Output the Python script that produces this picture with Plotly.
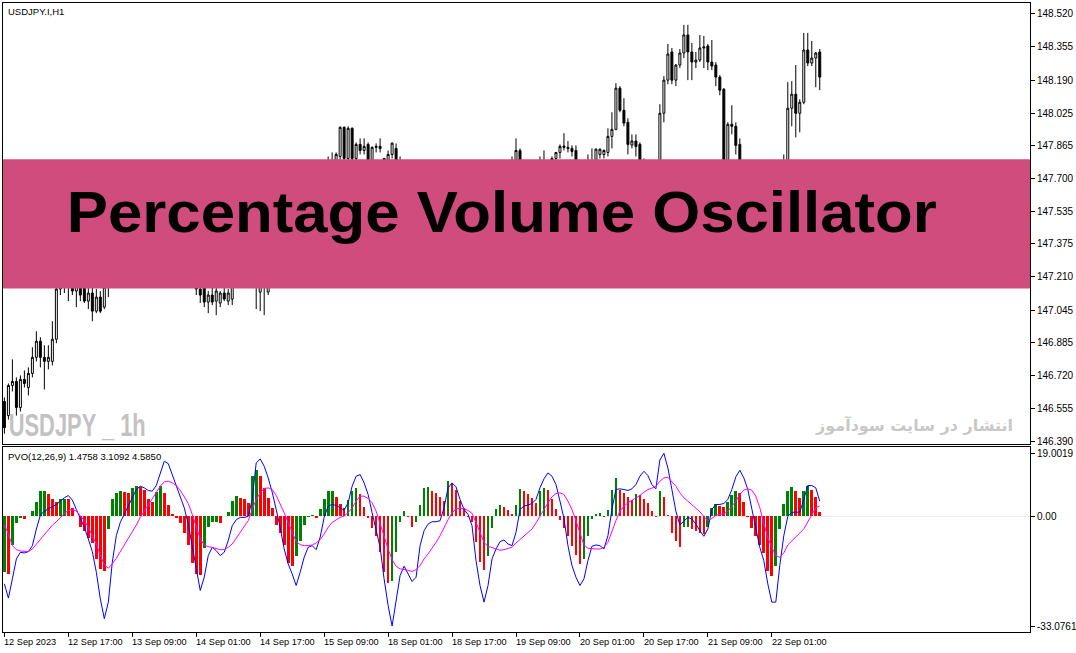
import plotly.graph_objects as go

# ---------------- data ----------------
open_ = [146.59,146.52,146.67,146.69,146.56,146.70,146.66,146.73,146.81,146.89,
146.81,146.79,146.79,146.90,147.15,147.22,147.16,147.20,147.14,147.18,
147.18,147.09,147.13,147.04,147.11,147.06,147.16,147.25,147.30,147.38,
147.44,147.40,147.48,147.56,147.52,147.47,147.53,147.58,147.55,147.50,
147.42,147.46,147.44,147.38,147.42,147.36,147.33,147.28,147.30,147.15,
147.20,147.085,147.12,147.09,147.08,147.13,147.09,147.10,147.20,147.35,
147.42,147.30,147.22,147.20,147.135,147.21,147.135,147.26,147.33,147.40,
147.45,147.42,147.48,147.52,147.50,147.56,147.60,147.58,147.62,147.66,
147.64,147.70,147.76,147.78,147.81,147.955,147.80,147.95,147.80,147.87,
147.84,147.87,147.78,147.855,147.86,147.80,147.79,147.82,147.85,147.75,
147.70,147.62,147.65,147.58,147.52,147.47,147.50,147.43,147.40,147.44,
147.41,147.36,147.42,147.49,147.47,147.52,147.55,147.53,147.57,147.60,
147.58,147.61,147.64,147.62,147.66,147.69,147.67,147.73,147.75,147.84,
147.72,147.66,147.70,147.68,147.73,147.76,147.74,147.77,147.80,147.83,
147.862,147.855,147.85,147.84,147.75,147.70,147.73,147.77,147.75,147.82,
147.82,147.83,147.91,147.945,148.15,148.04,147.98,147.867,147.887,147.87,
147.75,147.68,147.71,147.66,147.75,148.025,148.19,148.33,148.19,148.265,
148.325,148.415,148.33,148.28,148.29,148.35,148.36,148.28,148.265,148.205,
148.145,147.72,147.97,147.96,147.87,147.75,147.65,147.58,147.52,147.46,
147.50,147.45,147.48,147.53,147.60,147.66,147.75,148.05,148.12,148.025,
148.08,148.34,148.275,148.30,148.33]

high = [146.61,146.68,146.80,146.71,146.72,146.745,146.76,146.86,146.94,146.91,
146.87,146.87,146.99,147.25,147.28,147.30,147.24,147.26,147.22,147.25,
147.20,147.18,147.16,147.15,147.14,147.22,147.30,147.34,147.42,147.47,
147.52,147.50,147.60,147.64,147.58,147.55,147.62,147.66,147.62,147.56,
147.50,147.52,147.48,147.45,147.46,147.42,147.38,147.34,147.35,147.20,
147.22,147.14,147.16,147.17,147.14,147.16,147.15,147.25,147.40,147.48,
147.45,147.35,147.28,147.26,147.24,147.28,147.30,147.36,147.42,147.48,
147.52,147.50,147.56,147.60,147.58,147.64,147.66,147.65,147.70,147.72,
147.74,147.81,147.83,147.83,147.96,147.96,147.96,147.955,147.88,147.90,
147.90,147.88,147.86,147.875,147.90,147.80,147.84,147.88,147.875,147.81,
147.74,147.68,147.70,147.64,147.58,147.55,147.56,147.49,147.46,147.50,
147.46,147.45,147.52,147.56,147.54,147.58,147.60,147.59,147.63,147.64,
147.62,147.66,147.69,147.68,147.72,147.74,147.76,147.81,147.90,147.85,
147.76,147.72,147.75,147.76,147.81,147.84,147.79,147.81,147.83,147.87,
147.926,147.887,147.865,147.865,147.78,147.76,147.82,147.85,147.85,147.85,
147.845,147.95,148.03,148.175,148.16,148.10,148.00,147.92,147.92,147.88,
147.80,147.74,147.76,147.78,148.07,148.21,148.37,148.35,148.27,148.345,
148.465,148.465,148.375,148.33,148.415,148.41,148.37,148.39,148.28,148.215,
148.15,147.98,148.065,147.98,147.90,147.78,147.70,147.64,147.58,147.54,
147.56,147.52,147.56,147.62,147.70,147.82,148.18,148.185,148.265,148.095,
148.425,148.425,148.385,148.33,148.345]

low = [146.43,146.50,146.64,146.52,146.54,146.66,146.62,146.71,146.79,146.76,
146.65,146.75,146.77,146.88,147.12,147.13,147.09,147.12,147.06,147.09,
147.08,147.05,146.99,147.03,147.03,147.05,147.11,147.20,147.27,147.33,
147.38,147.36,147.45,147.50,147.44,147.42,147.50,147.52,147.46,147.38,
147.36,147.40,147.35,147.33,147.34,147.30,147.25,147.22,147.12,147.08,
147.06,147.03,147.07,147.02,147.06,147.09,147.07,147.07,147.18,147.30,
147.25,147.18,147.16,147.05,147.04,147.02,147.12,147.22,147.30,147.36,
147.40,147.38,147.44,147.47,147.46,147.52,147.54,147.53,147.58,147.60,
147.60,147.65,147.72,147.75,147.79,147.78,147.78,147.76,147.78,147.82,
147.82,147.70,147.74,147.83,147.83,147.72,147.77,147.80,147.74,147.66,
147.58,147.55,147.56,147.50,147.44,147.42,147.40,147.36,147.34,147.38,
147.33,147.30,147.38,147.44,147.42,147.48,147.50,147.48,147.52,147.55,
147.53,147.57,147.60,147.58,147.62,147.64,147.63,147.68,147.72,147.68,
147.62,147.60,147.64,147.64,147.70,147.72,147.70,147.74,147.77,147.80,
147.84,147.83,147.81,147.72,147.66,147.65,147.70,147.72,147.73,147.80,
147.80,147.81,147.85,147.94,148.03,147.96,147.82,147.85,147.81,147.70,
147.64,147.60,147.64,147.62,147.72,147.98,148.17,148.17,148.16,148.25,
148.30,148.19,148.19,148.25,148.28,148.25,148.24,148.24,148.16,148.115,
147.68,147.70,147.92,147.82,147.70,147.62,147.55,147.48,147.42,147.40,
147.42,147.38,147.44,147.50,147.56,147.62,147.72,147.96,147.905,147.93,
148.07,148.26,148.26,148.155,148.14]

close = [146.46,146.67,146.69,146.56,146.70,146.68,146.73,146.81,146.89,146.81,
146.79,146.81,146.90,147.15,147.22,147.16,147.20,147.14,147.18,147.12,
147.09,147.13,147.04,147.11,147.04,147.16,147.25,147.30,147.38,147.44,
147.40,147.48,147.56,147.52,147.47,147.53,147.58,147.55,147.50,147.42,
147.46,147.44,147.38,147.42,147.36,147.33,147.28,147.30,147.15,147.12,
147.085,147.12,147.085,147.14,147.13,147.10,147.13,147.20,147.35,147.42,
147.30,147.22,147.20,147.18,147.21,147.20,147.26,147.33,147.40,147.45,
147.42,147.48,147.52,147.50,147.56,147.60,147.58,147.62,147.66,147.64,
147.70,147.76,147.79,147.82,147.955,147.80,147.95,147.80,147.87,147.84,
147.86,147.78,147.855,147.86,147.85,147.79,147.82,147.876,147.75,147.70,
147.62,147.65,147.58,147.52,147.47,147.50,147.43,147.40,147.44,147.41,
147.36,147.42,147.49,147.47,147.52,147.55,147.53,147.57,147.60,147.58,
147.61,147.64,147.62,147.66,147.69,147.67,147.73,147.75,147.84,147.72,
147.66,147.70,147.68,147.73,147.76,147.74,147.77,147.80,147.83,147.86,
147.855,147.85,147.835,147.75,147.70,147.73,147.77,147.75,147.846,147.846,
147.84,147.91,147.945,148.15,148.04,147.976,147.87,147.887,147.86,147.75,
147.68,147.71,147.66,147.75,148.025,148.19,148.32,148.19,148.265,148.325,
148.415,148.33,148.28,148.29,148.35,148.355,148.28,148.26,148.205,148.14,
147.72,147.97,147.96,147.865,147.75,147.65,147.58,147.52,147.46,147.50,
147.45,147.48,147.53,147.60,147.66,147.75,148.05,148.12,148.025,148.08,
148.34,148.275,148.30,148.325,148.205]

pvo = [-20.3,-24.6,-18.8,-12.8,-10.8,-11.0,-10.6,-8.8,-3.8,0.4,
1.6,2.3,2.8,3.6,4.6,5.6,6.3,4.9,2.1,-0.6,
-3.3,-6.8,-10.6,-16.8,-24.8,-30.8,-25.8,-13.8,-5.8,-1.8,
0.6,3.1,5.6,8.1,9.1,8.6,7.8,7.6,9.3,13.1,
16.6,15.9,12.6,9.1,6.1,2.6,-2.3,-8.8,-15.8,-22.3,
-18.3,-11.8,-9.3,-10.3,-11.8,-10.8,-7.3,-2.8,-1.0,-0.3,
-0.3,0.0,5.1,16.1,17.3,15.1,11.6,7.3,2.1,-3.3,
-9.8,-14.3,-17.3,-20.8,-16.8,-12.3,-9.3,-8.8,-10.0,-6.3,
-0.3,3.1,3.6,3.3,2.6,1.9,4.1,9.1,12.1,12.6,
10.1,6.6,1.1,-4.3,-9.3,-18.8,-26.8,-33.0,-25.8,-17.8,
-15.0,-17.3,-19.6,-18.3,-8.8,-4.3,-2.3,-1.6,-1.6,-1.3,
2.6,8.6,10.1,8.9,5.1,2.1,0.6,-2.8,-13.3,-20.8,
-25.8,-20.8,-12.8,-9.8,-7.6,-7.1,-8.3,-8.8,-4.8,2.1,
3.1,3.4,3.9,5.1,8.6,11.3,13.1,12.1,9.6,4.6,
-0.6,-8.8,-14.8,-18.3,-20.8,-18.8,-13.3,-9.0,-8.6,-8.8,
-9.8,-5.8,2.1,8.1,8.3,8.1,7.8,8.3,9.6,12.1,
13.6,12.3,9.6,8.3,17.0,19.0,14.6,8.1,1.6,-2.6,
-1.3,-0.3,-0.8,-2.3,-4.3,-6.0,-3.8,2.1,3.6,3.6,
3.9,5.1,8.1,11.9,13.9,11.6,8.1,2.6,-3.8,-9.3,
-13.3,-20.3,-25.8,-25.8,-14.8,-5.8,0.0,1.2,1.3,1.3,
5.1,9.3,9.3,8.6,4.585]

signal = [-2.5,-5.3,-8.8,-10.0,-10.4,-10.6,-10.6,-9.8,-8.3,-7.0,
-5.3,-3.8,-2.6,-1.6,-0.3,0.9,1.8,2.1,1.6,0.3,
-1.3,-3.3,-5.6,-8.3,-11.8,-14.6,-15.6,-14.3,-12.6,-10.6,
-8.8,-6.8,-4.6,-2.6,-0.3,1.6,3.3,5.1,7.1,9.1,
10.4,10.6,10.1,9.3,7.9,6.1,3.9,0.6,-3.3,-6.8,
-8.6,-9.1,-9.3,-9.6,-10.0,-10.0,-9.3,-8.3,-6.6,-5.0,
-3.3,-1.3,2.1,5.1,7.1,8.4,8.6,8.1,6.3,3.9,
1.1,-1.8,-5.0,-7.6,-8.5,-8.8,-8.8,-8.6,-8.0,-7.0,
-5.3,-3.3,-1.8,-1.0,-0.3,0.1,1.1,2.6,4.6,6.1,
6.1,5.4,4.1,1.6,-2.3,-6.3,-9.8,-13.0,-15.0,-15.8,
-15.9,-16.2,-16.6,-16.0,-14.8,-12.8,-11.3,-9.6,-7.8,-5.8,
-3.3,-1.0,1.1,2.3,2.5,2.3,1.8,0.9,-1.8,-5.0,
-7.8,-9.0,-9.4,-9.8,-10.2,-10.0,-9.6,-9.3,-8.0,-7.0,
-5.8,-4.8,-3.8,-2.0,0.1,2.1,4.1,5.9,6.9,7.1,
6.6,4.6,2.1,-1.3,-5.3,-8.6,-9.6,-9.8,-9.8,-9.8,
-9.3,-7.8,-4.3,-1.3,1.6,3.1,4.1,4.8,5.6,6.3,
7.3,8.1,8.5,9.1,10.6,11.6,11.8,10.6,9.1,7.1,
5.6,4.6,3.6,2.6,1.4,0.0,-1.3,-0.6,0.3,0.6,
0.8,1.5,3.1,4.6,6.6,7.9,8.3,7.9,6.1,2.6,
-2.0,-6.3,-9.3,-11.8,-12.3,-11.0,-8.6,-7.3,-6.0,-5.0,
-3.8,-1.8,0.6,2.6,3.1092]

hist = [-16.6,-17.2,-8.6,-1.9,-0.4,-0.7,0.1,1.6,4.3,7.6,
7.7,6.6,5.1,4.3,5.1,5.2,5.1,2.6,0.1,-3.2,
-4.4,-6.4,-7.9,-12.9,-15.7,-16.4,-3.9,5.1,7.1,7.6,
7.4,7.2,8.6,9.3,8.9,7.9,5.3,4.3,7.3,9.1,
7.1,3.3,0.6,-0.4,-2.1,-4.9,-8.7,-13.9,-17.4,-17.5,
-9.4,-3.2,-1.7,-1.6,-1.9,0.2,1.3,4.6,6.1,5.6,
5.1,3.9,12.1,14.1,12.1,8.6,5.6,2.6,-2.6,-5.1,
-8.7,-13.9,-14.9,-11.9,-7.4,-2.6,-0.2,0.4,-0.4,2.3,
5.3,7.6,7.7,5.8,3.6,2.6,4.9,7.6,8.6,6.6,
2.8,-0.5,-3.6,-6.0,-10.6,-16.8,-19.9,-19.3,-10.8,-1.8,
1.6,-0.3,-3.1,-1.8,3.3,8.6,8.9,7.6,7.1,5.9,
4.6,10.6,10.1,8.1,4.6,2.6,-0.3,-1.8,-7.8,-13.8,
-16.1,-11.8,-3.6,2.1,3.3,2.8,1.8,0.6,3.3,8.3,
7.6,6.6,5.6,4.1,7.6,8.6,8.1,5.1,2.1,-1.0,
-3.6,-6.0,-8.8,-11.6,-14.3,-12.8,-5.8,-0.8,0.6,1.1,
-0.1,1.8,8.1,11.5,7.9,7.1,5.8,5.0,6.6,6.3,
5.1,4.1,1.6,-0.3,7.6,5.9,0.3,-5.0,-7.3,-9.3,
-3.3,-3.1,-3.8,-4.3,-5.0,-5.3,-3.3,2.6,3.6,3.0,
2.7,4.2,6.4,7.7,7.2,4.4,-0.2,-3.4,-5.9,-8.6,
-10.9,-16.4,-18.0,-14.9,-3.9,3.6,7.6,8.9,7.6,5.6,
7.6,9.3,8.1,5.9,1.4758]

time_labels = ["12 Sep 2023", "12 Sep 17:00", "13 Sep 09:00", "14 Sep 01:00",
               "14 Sep 17:00", "15 Sep 09:00", "18 Sep 01:00", "18 Sep 17:00",
               "19 Sep 09:00", "20 Sep 01:00", "20 Sep 17:00", "21 Sep 09:00",
               "22 Sep 01:00"]
time_label_bars = [0, 16, 32, 48, 64, 80, 96, 112, 128, 144, 160, 176, 192]

price_ticks = [148.520, 148.355, 148.190, 148.025, 147.865, 147.700, 147.535,
               147.375, 147.210, 147.045, 146.885, 146.720, 146.555, 146.390]
pvo_ticks = [19.0019, 0.0, -33.0761]
pvo_tick_text = ["19.0019", "0.00", "-33.0761"]

symbol_label = "USDJPY.I,H1"
indicator_label = "PVO(12,26,9) 1.4758 3.1092 4.5850"
banner_title = "Percentage Volume Oscillator"
watermark_left = "USDJPY _ 1h"
watermark_right = "انتشار در سایت سودآموز"

# ---------------- figure ----------------
W, H = 1076, 653
ML, MR, MT, MB = 3, 46, 3, 21
ph = H - MT - MB
def py(pix):
    return (H - MB - pix) / ph
def px(pix):
    return (pix - ML) / (W - ML - MR)

bars = list(range(len(close)))
XR = [-0.35, 256.6]
FONT = "Liberation Sans, Arial, sans-serif"

fig = go.Figure()

fig.add_trace(go.Candlestick(
    x=bars, open=open_, high=high, low=low, close=close,
    increasing=dict(line=dict(color="black", width=1), fillcolor="white"),
    decreasing=dict(line=dict(color="black", width=1), fillcolor="black"),
    whiskerwidth=0, xaxis="x", yaxis="y", showlegend=False, hoverinfo="skip"))

hist_colors = []
for k, v in enumerate(hist):
    if k == 0 or v > hist[k - 1]:
        hist_colors.append("#008000")
    else:
        hist_colors.append("#FF0000")

fig.add_trace(go.Bar(x=bars, y=hist, marker=dict(color=hist_colors, line=dict(width=0)),
                     width=0.68, xaxis="x2", yaxis="y2", showlegend=False, hoverinfo="skip"))
fig.add_trace(go.Scatter(x=bars, y=pvo, mode="lines", line=dict(color="#0000FF", width=1),
                         xaxis="x2", yaxis="y2", showlegend=False, hoverinfo="skip"))
fig.add_trace(go.Scatter(x=bars, y=signal, mode="lines", line=dict(color="#FF00FF", width=1),
                         xaxis="x2", yaxis="y2", showlegend=False, hoverinfo="skip"))

axis_common = dict(showgrid=False, zeroline=False, showline=True, mirror=True,
                   linecolor="black", linewidth=1, fixedrange=True, automargin=False)

fig.update_layout(
    width=W, height=H,
    margin=dict(l=ML, r=MR, t=MT, b=MB, pad=0, autoexpand=False),
    paper_bgcolor="white", plot_bgcolor="white",
    showlegend=False, bargap=0,
    xaxis=dict(domain=[0, 1], anchor="y", range=XR, showticklabels=False, ticks="",
               rangeslider=dict(visible=False), **axis_common),
    yaxis=dict(domain=[py(443.5), 1], anchor="x", side="right",
               range=[146.381, 148.574], tickvals=price_ticks,
               ticktext=["%.3f" % v for v in price_ticks],
               ticks="outside", ticklen=4, tickcolor="black",
               tickfont=dict(family=FONT, size=10, color="black"), **axis_common),
    xaxis2=dict(domain=[0, 1], anchor="y2", range=XR, tickvals=time_label_bars,
                ticks="outside", ticklen=4, tickcolor="black", showticklabels=False,
                **axis_common),
    yaxis2=dict(domain=[0, py(446.7)], anchor="x2", side="right",
                range=[-34.80, 20.99], tickvals=pvo_ticks, ticktext=pvo_tick_text,
                ticks="outside", ticklen=4, tickcolor="black",
                tickfont=dict(family=FONT, size=10, color="black"), **axis_common),
)

# zero level line in indicator window
fig.add_shape(type="line", xref="paper", yref="y2", x0=0, x1=1, y0=0, y1=0,
              line=dict(color="#EBEBEB", width=1), layer="below")

# pink banner
fig.add_shape(type="rect", xref="paper", yref="paper", x0=0, x1=1,
              y0=py(288.5), y1=py(159.3), fillcolor="#CF4C7C",
              line=dict(width=0), layer="above")

ann = []
ann.append(dict(text=banner_title, xref="paper", yref="paper", x=px(502), y=py(211),
                xanchor="center", yanchor="middle", showarrow=False,
                font=dict(family=FONT, size=58, color="black", weight="bold")))
ann.append(dict(text=watermark_left, xref="paper", yref="paper", x=px(76.5), y=py(425),
                xanchor="center", yanchor="middle", showarrow=False,
                font=dict(family=FONT, size=32, color="#C2C2C2", weight="bold")))
ann.append(dict(text=watermark_right, xref="paper", yref="paper", x=px(1015), y=py(425),
                xanchor="right", yanchor="middle", showarrow=False,
                font=dict(family="DejaVu Sans, sans-serif", size=16, color="#C8C8C8",
                          weight="bold")))
ann.append(dict(text=symbol_label, xref="paper", yref="paper", x=px(6), y=py(11),
                xanchor="left", yanchor="middle", showarrow=False,
                font=dict(family=FONT, size=9.5, color="black")))
ann.append(dict(text=indicator_label, xref="paper", yref="paper", x=px(6), y=py(456),
                xanchor="left", yanchor="middle", showarrow=False,
                font=dict(family=FONT, size=9.5, color="black")))
for b, t in zip(time_label_bars, time_labels):
    ann.append(dict(text=t, xref="x2", yref="paper", x=b, y=0, xanchor="left",
                    yanchor="top", yshift=-3, xshift=-2, showarrow=False,
                    font=dict(family=FONT, size=9.2, color="black")))
fig.update_layout(annotations=ann)

post_js = """
document.documentElement.style.margin='0';
document.body.style.margin='0';
document.body.style.padding='0';
document.body.style.overflow='hidden';
var gd = document.getElementById('{plot_id}');
var fits = [[%s, 870], [%s, 137]];
gd.querySelectorAll('text.annotation-text').forEach(function(t){
  fits.forEach(function(f){
    if (t.textContent === f[0]) {
      t.setAttribute('textLength', f[1]);
      t.setAttribute('lengthAdjust', 'spacingAndGlyphs');
    }
  });
});
""" % ('"' + banner_title + '"', '"' + watermark_left + '"')

fig.write_html("out.html", post_script=post_js,
               config={"displayModeBar": False, "staticPlot": True})
